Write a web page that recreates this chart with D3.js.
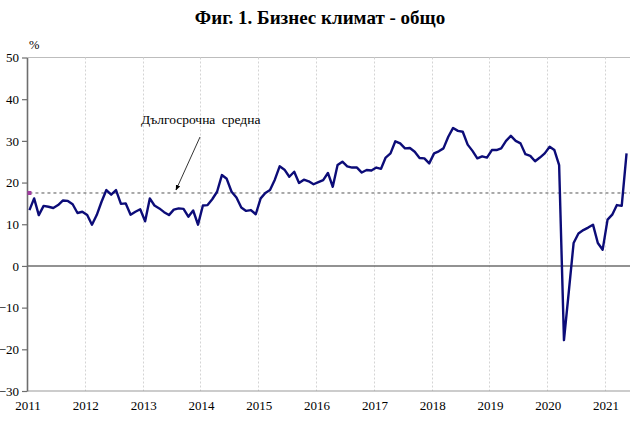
<!DOCTYPE html>
<html>
<head>
<meta charset="utf-8">
<script src="https://cdn.jsdelivr.net/npm/d3@7"></script>
<style>
  html, body { margin: 0; padding: 0; background: #fff; }
  svg { display: block; }
  svg text { font-family: "Liberation Serif", "Times New Roman", serif !important; }
</style>
</head>
<body>
<svg id="chart" width="642" height="430"></svg>
<script>
// ---- data ----
const title = "Фиг. 1. Бизнес климат - общо";
const unitLabel = "%";
const annotationText = "Дългосрочна средна";
const startMonth = "2011-01";
const values = [
  // 2011
  13.4, 16.2, 12.2, 14.4, 14.2, 13.9, 14.6, 15.7, 15.6, 14.8, 12.7, 13.0,
  // 2012
  12.2, 9.9, 12.2, 15.4, 18.2, 17.1, 18.2, 14.9, 15.0, 12.3, 13.0, 13.6,
  // 2013
  10.7, 16.2, 14.5, 13.8, 12.9, 12.2, 13.5, 13.8, 13.7, 11.8, 13.3, 9.9,
  // 2014
  14.5, 14.6, 16.0, 17.8, 21.8, 20.9, 17.8, 16.4, 14.0, 13.2, 13.4, 12.4,
  // 2015
  16.2, 17.5, 18.2, 20.7, 23.9, 23.1, 21.4, 22.6, 19.9, 20.7, 20.3, 19.6,
  // 2016
  20.1, 20.6, 22.3, 19.0, 24.2, 25.0, 23.9, 23.6, 23.6, 22.4, 23.0, 22.9,
  // 2017
  23.6, 23.3, 26.0, 27.0, 29.9, 29.4, 28.2, 28.3, 27.4, 25.9, 25.8, 24.6,
  // 2018
  27.0, 27.5, 28.2, 31.0, 33.1, 32.4, 32.2, 29.1, 27.6, 25.8, 26.3, 26.0,
  // 2019
  27.8, 27.8, 28.2, 30.0, 31.2, 30.0, 29.4, 26.8, 26.4, 25.1, 26.0, 27.0,
  // 2020
  28.6, 27.8, 24.2, -17.8, -6.2, 5.5, 7.8, 8.6, 9.2, 9.9, 5.5, 3.9,
  // 2021
  11.1, 12.3, 14.6, 14.4, 27.0
];
const longTermAverage = 17.5;
const yTicks = [-30, -20, -10, 0, 10, 20, 30, 40, 50];
const yearLabels = ["2011","2012","2013","2014","2015","2016","2017","2018","2019","2020","2021"];

// categories: one per month
const parseMonth = d3.timeParse("%Y-%m");
const firstMonth = parseMonth(startMonth);
const months = d3.range(values.length).map(i => d3.timeMonth.offset(firstMonth, i));
const data = months.map((m, i) => ({ month: m, value: values[i] }));

// ---- layout ----
const svg = d3.select("#chart");
const plotLeft = 27, plotRight = 629, plotTop = 57.5, plotBottom = 391;

const x = d3.scaleTime()
  .domain([firstMonth, d3.timeMonth.offset(firstMonth, values.length)])
  .range([plotLeft, plotRight]);
// point placed in the middle of its month slot
const xMid = d => x(new Date((d.month.getTime() + d3.timeMonth.offset(d.month, 1).getTime()) / 2));
const y = d3.scaleLinear().domain([-30, 50]).range([plotBottom, plotTop]);

// title
svg.append("text")
  .attr("x", 320).attr("y", 24)
  .attr("text-anchor", "middle")
  .attr("font-size", 19).attr("font-weight", "bold")
  .attr("fill", "#000")
  .text(title);

// top border
svg.append("line")
  .attr("x1", plotLeft).attr("x2", plotRight + 1)
  .attr("y1", plotTop).attr("y2", plotTop)
  .attr("stroke", "#bdbdbd").attr("stroke-width", 1);

// vertical year gridlines
const yearDates = yearLabels.map(s => d3.timeParse("%Y")(s));
svg.append("g").selectAll("line")
  .data(yearDates.slice(1))
  .join("line")
  .attr("x1", d => Math.round(x(d)) + 0.5).attr("x2", d => Math.round(x(d)) + 0.5)
  .attr("y1", plotTop).attr("y2", plotBottom)
  .attr("stroke", "#d4d4d4").attr("stroke-width", 1)
  .attr("stroke-dasharray", "2,2");

// bottom axis line
svg.append("line")
  .attr("x1", plotLeft).attr("x2", plotRight + 1)
  .attr("y1", plotBottom).attr("y2", plotBottom)
  .attr("stroke", "#9a9a9a").attr("stroke-width", 1.2);

// x labels
svg.append("g").selectAll("text")
  .data(yearLabels)
  .join("text")
  .attr("x", (d, i) => x(yearDates[i]) + 1)
  .attr("y", 410)
  .attr("text-anchor", "middle")
  .attr("font-size", 13)
  .attr("fill", "#000")
  .text(d => d);

// y axis via d3.axisLeft
const yAxis = d3.axisLeft(y).tickValues(yTicks).tickSize(5).tickSizeOuter(0).tickPadding(3);
const gy = svg.append("g").attr("transform", `translate(${plotLeft},0)`).call(yAxis);
gy.select(".domain").attr("stroke", "#6e6e6e").attr("stroke-width", 1.6);
gy.selectAll(".tick line").attr("stroke", "#6e6e6e").attr("stroke-width", 1.2);
gy.selectAll(".tick text")
  .attr("font-size", 13).attr("fill", "#000");

// unit label
svg.append("text")
  .attr("x", 29).attr("y", 49)
  .attr("font-size", 12.5).attr("fill", "#000")
  .text(unitLabel);

// zero line
svg.append("line")
  .attr("x1", plotLeft).attr("x2", plotRight + 1)
  .attr("y1", y(0)).attr("y2", y(0))
  .attr("stroke", "#6e6e6e").attr("stroke-width", 1.6);

// long-term average
const avgStart = xMid(data[0]);
svg.append("line")
  .attr("x1", avgStart).attr("x2", plotRight + 1)
  .attr("y1", y(longTermAverage)).attr("y2", y(longTermAverage))
  .attr("stroke", "#555").attr("stroke-width", 1)
  .attr("stroke-dasharray", "3,3");
svg.append("rect")
  .attr("x", avgStart - 2).attr("y", y(longTermAverage) - 2)
  .attr("width", 4).attr("height", 4)
  .attr("fill", "#a03ca0");

// series line
svg.append("path")
  .datum(data)
  .attr("fill", "none")
  .attr("stroke", "#0c0c78")
  .attr("stroke-width", 2.4)
  .attr("stroke-linejoin", "round")
  .attr("d", d3.line().x(xMid).y(d => y(d.value)));

// annotation
svg.append("defs").append("marker")
  .attr("id", "arrow").attr("viewBox", "0 0 10 10")
  .attr("refX", 9).attr("refY", 5)
  .attr("markerWidth", 7).attr("markerHeight", 7)
  .attr("orient", "auto")
  .append("path").attr("d", "M0,1 L10,5 L0,9 Z").attr("fill", "#000");

svg.append("text")
  .attr("x", 141).attr("y", 124)
  .attr("font-size", 13.5).attr("fill", "#000")
  .attr("word-spacing", 3)
  .text(annotationText);

svg.append("line")
  .attr("x1", 200).attr("y1", 137)
  .attr("x2", 176).attr("y2", 190)
  .attr("stroke", "#000").attr("stroke-width", 0.8)
  .attr("marker-end", "url(#arrow)");
</script>
</body>
</html>
